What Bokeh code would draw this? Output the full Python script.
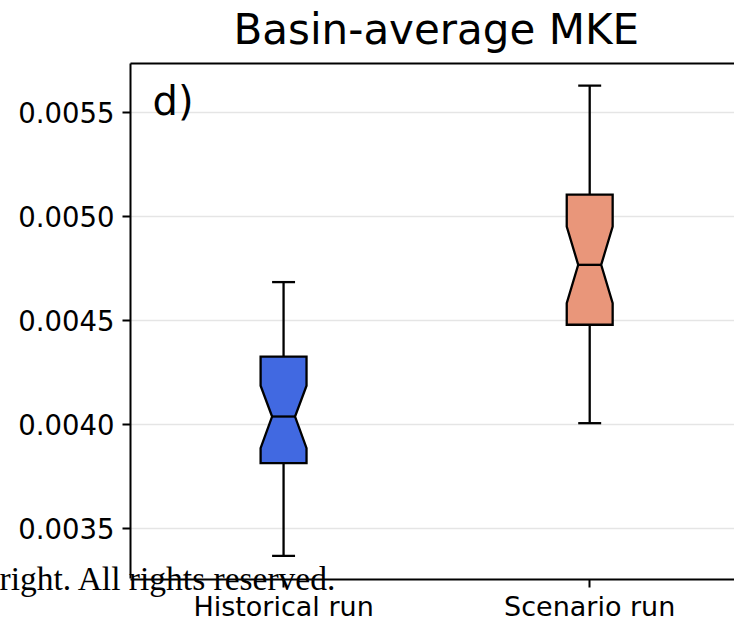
from bokeh.plotting import figure
from bokeh.models import (ColumnDataSource, Label, LinearAxis, FixedTicker,
                          PrintfTickFormatter, Range1d, Title)
from bokeh.embed import file_html
from bokeh.resources import INLINE

# ---- data ----
categories = ["Historical run", "Scenario run"]
positions = [1, 2]
fill_colors = ["#4169E1", "#E9967A"]
whisker_low = [0.003370, 0.004008]
q1 = [0.003816, 0.004481]
notch_low = [0.003888, 0.004585]
median = [0.004040, 0.004769]
notch_high = [0.004188, 0.004953]
q3 = [0.004328, 0.005106]
whisker_high = [0.004686, 0.005630]
y_ticks = [0.0035, 0.0040, 0.0045, 0.0050, 0.0055]

box_width = 0.15
FONT = "DejaVu Sans"
LW = 2.3

p = figure(width=734, height=624, output_backend="svg", toolbar_location=None,
           x_range=Range1d(0.5, 2.473), y_range=Range1d(0.0032616, 0.0057365),
           min_border_left=130, min_border_right=0, min_border_top=63,
           min_border_bottom=45, x_axis_location=None, y_axis_location=None)
p.outline_line_color = None
p.background_fill_color = "white"
p.border_fill_color = "white"
p.title.text = ""

# top border line (invisible ticks only reserve a little room under the title)
top_axis = LinearAxis(ticker=FixedTicker(ticks=positions))
top_axis.axis_line_width = 2
top_axis.major_tick_line_color = None
top_axis.minor_tick_line_color = None
top_axis.major_tick_out = 10
top_axis.major_tick_in = 0
top_axis.minor_tick_out = 0
top_axis.major_label_standoff = 0
top_axis.major_label_text_font_size = "0px"
top_axis.major_label_text_alpha = 0
p.add_layout(top_axis, "above")

# chart title (above panel, outside the top border)
ttl = Title(text="Basin-average MKE", align="left", offset=103, standoff=0,
            vertical_align="bottom", text_font=FONT, text_font_size="42px",
            text_font_style="normal", text_color="black")
p.add_layout(ttl, "above")

# left axis
yaxis = LinearAxis(ticker=FixedTicker(ticks=y_ticks),
                   formatter=PrintfTickFormatter(format="%.4f"))
yaxis.axis_line_width = 2
yaxis.major_tick_line_width = 2
yaxis.major_tick_out = 8
yaxis.major_tick_in = 0
yaxis.minor_tick_line_color = None
yaxis.major_label_standoff = 8
yaxis.major_label_text_font = FONT
yaxis.major_label_text_font_size = "27.5px"
yaxis.major_label_text_color = "black"
p.add_layout(yaxis, "left")

# copyright overlay of the source image (below panel, first = nearest the frame)
wm = Title(text="right. All rights reserved.", align="left", offset=-131,
           vertical_align="top", standoff=-38, text_font="Liberation Serif",
           text_font_size="33.5px", text_font_style="normal", text_color="black")
p.add_layout(wm, "below")

# bottom axis
xaxis = LinearAxis(ticker=FixedTicker(ticks=positions),
                   major_label_overrides={pos: c for pos, c in zip(positions, categories)})
xaxis.axis_line_width = 2
xaxis.major_tick_line_width = 2
xaxis.major_tick_out = 8
xaxis.major_tick_in = 0
xaxis.minor_tick_line_color = None
xaxis.major_label_standoff = 3
xaxis.major_label_text_font = FONT
xaxis.major_label_text_font_size = "27px"
xaxis.major_label_text_color = "black"
p.add_layout(xaxis, "below")

p.xgrid.visible = False
p.ygrid.ticker = FixedTicker(ticks=y_ticks)
p.ygrid.grid_line_color = "#e5e5e5"
p.ygrid.grid_line_width = 1.5

# notched boxes
xs, ys = [], []
for pos, a, nl, m, nh, b in zip(positions, q1, notch_low, median, notch_high, q3):
    bl, br = pos - box_width / 2, pos + box_width / 2
    cl, cr = pos - box_width / 4, pos + box_width / 4
    xs.append([bl, br, br, cr, br, br, bl, bl, cl, bl, bl])
    ys.append([a, a, nl, m, nh, b, b, nh, m, nl, a])
box_src = ColumnDataSource(dict(xs=xs, ys=ys, color=fill_colors))
p.patches("xs", "ys", source=box_src, fill_color="color", line_color="black",
          line_width=LW, line_join="miter")

cap_l = [x - box_width / 4 for x in positions]
cap_r = [x + box_width / 4 for x in positions]
# medians
p.segment(x0=cap_l, x1=cap_r, y0=median, y1=median, line_color="black", line_width=LW)
# whiskers
p.segment(x0=positions, x1=positions, y0=q3, y1=whisker_high, line_color="black", line_width=LW)
p.segment(x0=positions, x1=positions, y0=q1, y1=whisker_low, line_color="black", line_width=LW)
# caps
p.segment(x0=cap_l, x1=cap_r, y0=whisker_high, y1=whisker_high, line_color="black", line_width=LW)
p.segment(x0=cap_l, x1=cap_r, y0=whisker_low, y1=whisker_low, line_color="black", line_width=LW)

# panel letter
p.add_layout(Label(x=22, y=478, x_units="screen", y_units="screen",
                   text="d)", text_font=FONT, text_font_size="40px",
                   text_align="left", text_baseline="alphabetic", text_color="black"))

open("out.html", "w").write(file_html(p, INLINE))
